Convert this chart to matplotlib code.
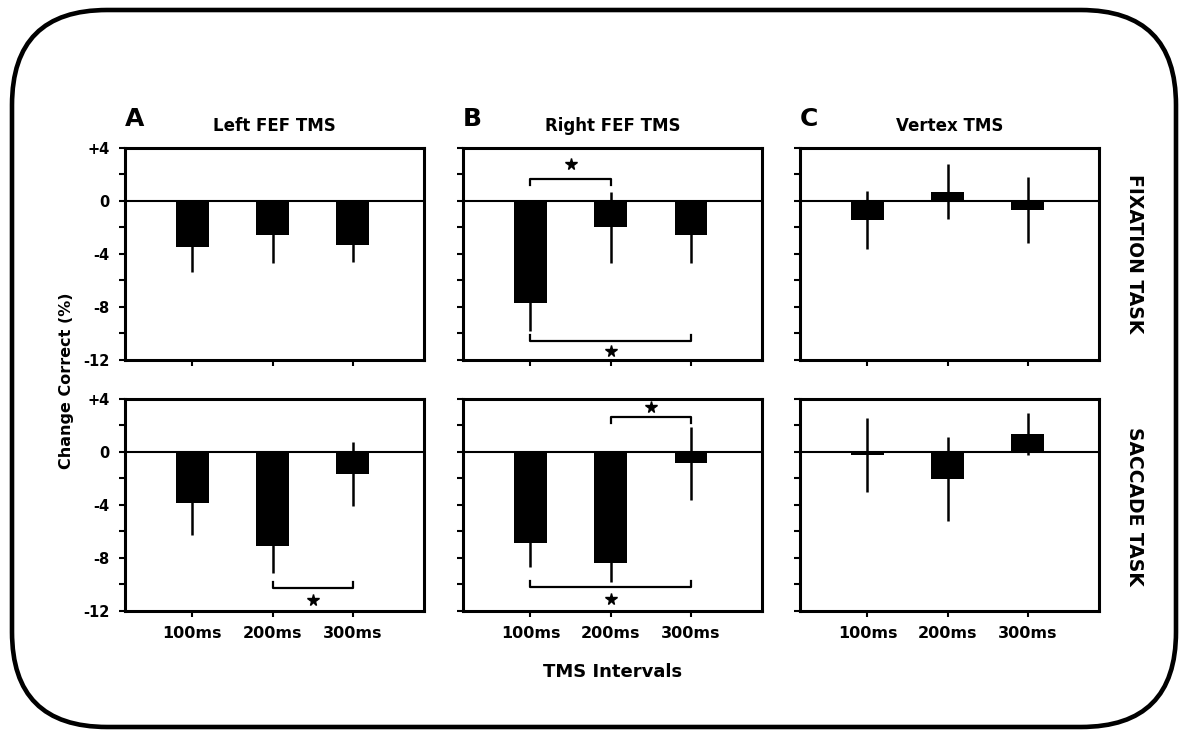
import matplotlib.pyplot as plt
from matplotlib.patches import FancyBboxPatch

plt.rcParams['font.family'] = ['DejaVu Sans']
plt.rcParams['font.weight'] = 'bold'

conditions = ["Left FEF TMS", "Right FEF TMS", "Vertex TMS"]
letters = ["A", "B", "C"]
intervals = ["100ms", "200ms", "300ms"]
tasks = ["FIXATION TASK", "SACCADE TASK"]

# mean change in % correct, one list per TMS site
fix_means = [[-3.5, -2.6, -3.35], [-7.7, -2.0, -2.6], [-1.45, 0.7, -0.7]]
fix_err = [[1.85, 2.1, 1.3], [2.15, 2.7, 2.1], [2.2, 2.05, 2.5]]
sac_means = [[-3.85, -7.1, -1.65], [-6.85, -8.4, -0.85], [-0.22, -2.05, 1.35]]
sac_err = [[2.45, 2.0, 2.4], [1.8, 1.4, 2.75], [2.8, 3.2, 1.6]]

# significance brackets: (row, col, bar a, bar b, level, star level)
brackets = [
    (0, 1, 0, 1, 1.65, 2.75),
    (0, 1, 0, 2, -10.55, -11.3),
    (1, 0, 1, 2, -10.25, -11.15),
    (1, 1, 1, 2, 2.6, 3.35),
    (1, 1, 0, 2, -10.2, -11.1),
]

yticks = [4, 0, -4, -8, -12]
yticklabels = ["+4", "0", "-4", "-8", "-12"]

fig = plt.figure(figsize=(11.87, 7.32), dpi=100)

lefts = [0.1053, 0.3901, 0.674]
bottoms = [0.5082, 0.1653]
W, H = 0.2515, 0.290

means = [fix_means, sac_means]
errs = [fix_err, sac_err]
axes = {}
for r in range(2):
    for c in range(3):
        ax = fig.add_axes([lefts[c], bottoms[r], W, H])
        axes[(r, c)] = ax
        x = list(range(len(intervals)))
        ax.errorbar(x, means[r][c], yerr=errs[r][c], fmt="none",
                    ecolor="black", elinewidth=1.8, capsize=0, zorder=2)
        ax.bar(x, means[r][c], width=0.41, color="black", zorder=3)
        ax.axhline(0, color="black", lw=1.5, zorder=4)
        ax.set_xlim(-0.84, 2.88)
        ax.set_ylim(-12, 4)
        ax.set_yticks(yticks)
        ax.set_yticks([2, -2, -6, -10], minor=True)
        ax.set_xticks(x)
        for s in ax.spines.values():
            s.set_linewidth(2.2)
        ax.tick_params(which="both", direction="out", length=4, width=1.5)
        ax.tick_params(axis="y", pad=7)
        if c == 0:
            ax.set_yticklabels(yticklabels, fontsize=10.5, fontweight="bold")
        else:
            ax.set_yticklabels([])
        if r == 1:
            ax.set_xticklabels(intervals, fontsize=11.5, fontweight="bold")
            ax.tick_params(axis="x", pad=7)
        else:
            ax.set_xticklabels([])
        if r == 0:
            ax.set_title(conditions[c], fontsize=12, fontweight="bold", pad=12)
            ax.text(0.0, 1.08, letters[c], transform=ax.transAxes,
                    fontsize=18, fontweight="bold", ha="left", va="bottom")

for r, c, a, b, lvl, star in brackets:
    ax = axes[(r, c)]
    tick = -0.45 if lvl > 0 else 0.45
    ax.plot([a, a, b, b], [lvl + tick, lvl, lvl, lvl + tick],
            color="black", lw=1.6, zorder=5)
    ax.plot([(a + b) / 2], [star], marker="*", color="black",
            markersize=8.5, zorder=5)

fig.text(0.056, 0.48, "Change Correct (%)", rotation=90, ha="center",
         va="center", fontsize=11.5, fontweight="bold")
fig.text(0.516, 0.082, "TMS Intervals", ha="center", va="center",
         fontsize=13, fontweight="bold")
fig.text(0.956, 0.654, tasks[0], rotation=-90, ha="center", va="center",
         fontsize=13.5, fontweight="bold")
fig.text(0.956, 0.308, tasks[1], rotation=-90, ha="center", va="center",
         fontsize=13.5, fontweight="bold")

border = FancyBboxPatch((0.12, 0.05), 11.64, 7.17,
                        boxstyle="round,pad=0,rounding_size=0.95",
                        transform=fig.dpi_scale_trans, fill=False,
                        edgecolor="black", linewidth=3.3)
fig.patches.append(border)

fig.savefig("out.png", dpi=100)
